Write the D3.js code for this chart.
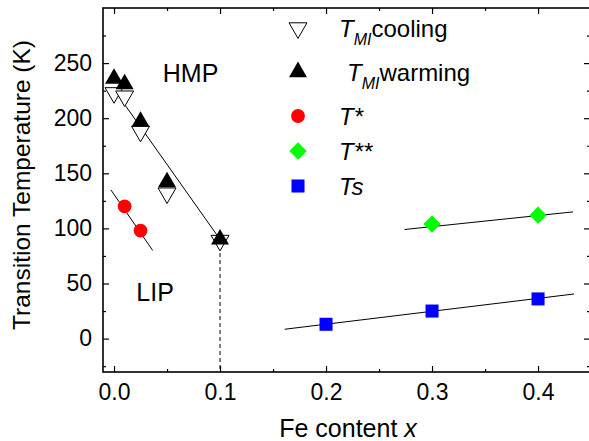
<!DOCTYPE html>
<html lang="en">
<head>
    <meta charset="UTF-8">
    <title>Transition Temperature vs Fe content</title>
    <script src="https://d3js.org/d3.v7.min.js"></script>
    <style>
        body { margin: 0; background: #fff; }
        text { font-family: "Liberation Sans", Arial, sans-serif; fill: #000; }
    </style>
</head>
<body>
<div id="chart"></div>
<script>
    // data
    var feMI = [0, 0.01, 0.025, 0.05, 0.1];
    var tCooling = [223, 220, 188, 132, 89];
    var tWarming = [236, 231, 197, 142, 90];
    var feStar = [0.01, 0.025];
    var tStar = [120, 98];
    var feStar2 = [0.3, 0.4];
    var tStar2 = [104, 112];
    var feTs = [0.2, 0.3, 0.4];
    var tTs = [13, 25, 36];

    // linear guide lines (end points)
    var fitMIx = [0.003, 0.1], fitMIy = [222, 90];
    var fitStarX = [-0.003, 0.0365], fitStarY = [135, 80];
    var fitStar2X = [0.274, 0.433], fitStar2Y = [99, 115];
    var fitTsX = [0.161, 0.434], fitTsY = [8.5, 40.5];

    var xTicks = [0, 0.1, 0.2, 0.3, 0.4];
    var yTicks = [0, 50, 100, 150, 200, 250];

    var width = 589, height = 441;
    var margin = {top: 8, right: -1, bottom: 69, left: 103};
    var w = width - margin.left - margin.right;
    var h = height - margin.top - margin.bottom;

    var svg = d3.select("#chart").append("svg")
        .attr("width", width)
        .attr("height", height);
    var g = svg.append("g")
        .attr("transform", "translate(" + margin.left + "," + margin.top + ")");

    var x = d3.scaleLinear().domain([-0.0104, 0.449]).range([0, w]);
    var y = d3.scaleLinear().domain([-30.3, 300]).range([h, 0]);

    // axes with inward ticks
    function xAx(axis, major) {
        return axis.tickValues(major ? xTicks : d3.range(0.05, 0.45, 0.1))
            .tickSize(major ? -6 : -3).tickSizeOuter(0);
    }
    function yAx(axis, major) {
        return axis.tickValues(major ? yTicks : d3.range(-25, 300, 50))
            .tickSize(major ? -6 : -3).tickSizeOuter(0);
    }

    g.append("g").attr("transform", "translate(0," + h + ")")
        .call(xAx(d3.axisBottom(x), true).tickFormat(d3.format(".1f")).tickPadding(12));
    g.append("g").attr("transform", "translate(0," + h + ")")
        .call(xAx(d3.axisBottom(x), false).tickFormat(""));
    g.append("g").call(xAx(d3.axisTop(x), true).tickFormat(""));
    g.append("g").call(xAx(d3.axisTop(x), false).tickFormat(""));

    g.append("g").call(yAx(d3.axisLeft(y), true).tickPadding(11));
    g.append("g").call(yAx(d3.axisLeft(y), false).tickFormat(""));
    g.append("g").attr("transform", "translate(" + w + ",0)")
        .call(yAx(d3.axisRight(y), true).tickFormat(""));
    g.append("g").attr("transform", "translate(" + w + ",0)")
        .call(yAx(d3.axisRight(y), false).tickFormat(""));

    g.selectAll(".domain").remove();
    g.selectAll(".tick line").attr("stroke", "#000").attr("stroke-width", 1.2);
    g.selectAll(".tick text").style("font-size", "23px").attr("fill", "#000");

    // frame
    g.append("rect")
        .attr("width", w).attr("height", h)
        .attr("fill", "none").attr("stroke", "#000").attr("stroke-width", 1.6);

    // axis titles
    svg.append("text")
        .attr("x", 348).attr("y", 437)
        .attr("text-anchor", "middle")
        .style("font-size", "25px")
        .html('Fe content <tspan font-style="italic">x</tspan>');
    svg.append("text")
        .attr("transform", "translate(30,185) rotate(-90)")
        .attr("text-anchor", "middle")
        .style("font-size", "24.5px")
        .text("Transition Temperature (K)");

    // region labels
    g.append("text").attr("x", x(0.046)).attr("y", y(233))
        .style("font-size", "25px").text("HMP");
    g.append("text").attr("x", x(0.021)).attr("y", y(34))
        .style("font-size", "25px").text("LIP");

    // guide lines
    var line = d3.line().x(function(d) { return x(d[0]); }).y(function(d) { return y(d[1]); });
    function fit(xs, ys) {
        g.append("path").datum(d3.zip(xs, ys))
            .attr("d", line).attr("fill", "none")
            .attr("stroke", "#000").attr("stroke-width", 1);
    }
    fit(fitMIx, fitMIy);
    fit(fitStarX, fitStarY);
    fit(fitStar2X, fitStar2Y);
    fit(fitTsX, fitTsY);

    g.append("line")
        .attr("x1", x(0.1)).attr("x2", x(0.1))
        .attr("y1", y(84)).attr("y2", h)
        .attr("stroke", "#000").attr("stroke-width", 1)
        .attr("stroke-dasharray", "4,3");

    // markers
    var triUp = d3.symbol().type(d3.symbolTriangle).size(140);
    var circ = d3.symbol().type(d3.symbolCircle).size(150);
    var sq = d3.symbol().type(d3.symbolSquare).size(170);
    var dia = d3.symbol().type(d3.symbolSquare).size(150);

    function markers(xs, ys, sym, fill, stroke, rot) {
        g.append("g").selectAll("path")
            .data(d3.zip(xs, ys)).enter().append("path")
            .attr("d", sym)
            .attr("transform", function(d) {
                return "translate(" + x(d[0]) + "," + y(d[1]) + ") rotate(" + rot + ")";
            })
            .attr("fill", fill)
            .attr("stroke", stroke)
            .attr("stroke-width", 1);
    }
    markers(feMI, tCooling, triUp, "#fff", "#000", 180);
    markers(feMI, tWarming, triUp, "#000", "none", 0);
    markers(feStar, tStar, circ, "#ff0000", "none", 0);
    markers(feStar2, tStar2, dia, "#00ff00", "none", 45);
    markers(feTs, tTs, sq, "#0000ff", "none", 0);

    // legend
    var legend = [
        {sym: triUp, fill: "#fff", stroke: "#000", rot: 180, y: 28,
         html: '<tspan font-style="italic">T</tspan><tspan font-style="italic" font-size="16px" dy="8">MI</tspan><tspan dy="-8">cooling</tspan>', dx: 0},
        {sym: triUp, fill: "#000", stroke: "none", rot: 0, y: 72,
         html: '<tspan font-style="italic">T</tspan><tspan font-style="italic" font-size="16px" dy="8">MI</tspan><tspan dy="-8">warming</tspan>', dx: 8},
        {sym: circ, fill: "#ff0000", stroke: "none", rot: 0, y: 116,
         html: '<tspan font-style="italic">T*</tspan>', dx: 0},
        {sym: dia, fill: "#00ff00", stroke: "none", rot: 45, y: 151,
         html: '<tspan font-style="italic">T**</tspan>', dx: 0},
        {sym: sq, fill: "#0000ff", stroke: "none", rot: 0, y: 186,
         html: '<tspan font-style="italic">Ts</tspan>', dx: 0}
    ];
    var lg = svg.append("g");
    legend.forEach(function(d) {
        lg.append("path").attr("d", d.sym)
            .attr("transform", "translate(298," + d.y + ") rotate(" + d.rot + ")")
            .attr("fill", d.fill).attr("stroke", d.stroke).attr("stroke-width", 1);
        lg.append("text").attr("x", 339 + d.dx).attr("y", d.y + 9)
            .style("font-size", "24px").html(d.html);
    });
</script>
</body>
</html>
